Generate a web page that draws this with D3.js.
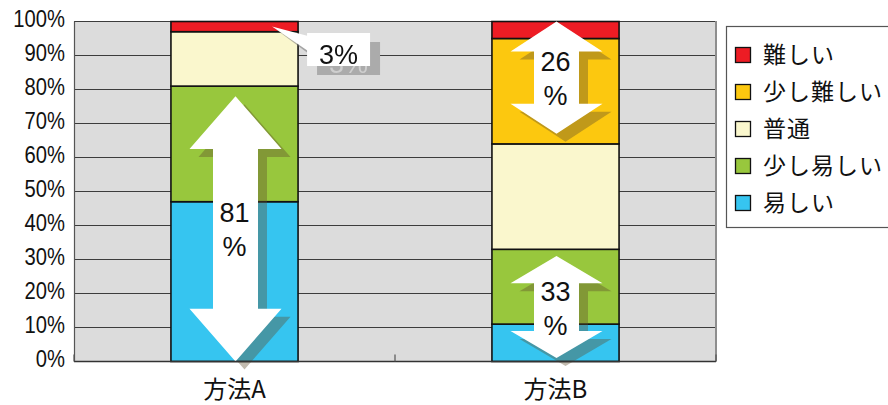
<!DOCTYPE html>
<html>
<head>
<meta charset="utf-8">
<script src="https://cdn.jsdelivr.net/npm/d3@7"></script>
<style>
  html, body { margin: 0; padding: 0; background: #fff; }
  svg { display: block; }
</style>
</head>
<body>
<svg id="chart" width="888" height="405"></svg>
<script>
// ---- data ----
const methods = ['方法A', '方法B'];
const levels = ['易しい', '少し易しい', '普通', '少し難しい', '難しい']; // stacked bottom → top
const easy = [47, 11];
const slightlyEasy = [34, 22];
const normal = [16, 31];
const slightlyHard = [0, 31];
const hard = [3, 5];
const yTicks = [0, 10, 20, 30, 40, 50, 60, 70, 80, 90, 100];

// double-headed block arrows: bar, span (%), head length (%), stated value
const arrowMethod = ['方法A', '方法B', '方法B'];
const arrowLow = [0, 1, 67];
const arrowHigh = [78, 31, 100];
const arrowHeadPct = [15.5, 8, 8.8];
const arrowValue = [81, 33, 26];

const colors = {
  '難しい': '#ed1c24',
  '少し難しい': '#fcc80f',
  '普通': '#faf7cd',
  '少し易しい': '#98c73d',
  '易しい': '#36c5f0'
};

const seriesByLevel = {
  '易しい': easy,
  '少し易しい': slightlyEasy,
  '普通': normal,
  '少し難しい': slightlyHard,
  '難しい': hard
};
const rows = methods.map((m, i) => {
  const r = { method: m };
  levels.forEach(l => { r[l] = seriesByLevel[l][i]; });
  return r;
});

// ---- layout ----
const plot = { left: 74, right: 716, top: 21.5, bottom: 361.5 };
const latin = "'Liberation Sans', Arial, sans-serif";
const cjk = "'Noto Sans CJK JP', 'Noto Sans', sans-serif";

const svg = d3.select('#chart');

// drop shadow for the callout box: an offset grey copy in which dark text turns light
const defs = svg.append('defs');
const calloutShadow = defs.append('filter')
  .attr('id', 'callout-shadow')
  .attr('filterUnits', 'userSpaceOnUse')
  .attr('x', 250).attr('y', 0).attr('width', 200).attr('height', 120)
  .attr('color-interpolation-filters', 'sRGB');
calloutShadow.append('feColorMatrix')
  .attr('in', 'SourceGraphic')
  .attr('type', 'matrix')
  .attr('values', '-0.15 0 0 0 0.82  0 -0.15 0 0 0.82  0 0 -0.15 0 0.82  0 0 0 1 0')
  .attr('result', 'grey');
calloutShadow.append('feOffset')
  .attr('in', 'grey').attr('dx', 10).attr('dy', 9)
  .attr('result', 'shifted');
const merge = calloutShadow.append('feMerge');
merge.append('feMergeNode').attr('in', 'shifted');
merge.append('feMergeNode').attr('in', 'SourceGraphic');

const x = d3.scaleBand()
  .domain(methods)
  .range([plot.left, plot.right])
  .paddingInner(0.604)
  .paddingOuter(0.302);

const y = d3.scaleLinear()
  .domain([0, 100])
  .range([plot.bottom, plot.top]);

// plot background
svg.append('rect')
  .attr('x', plot.left).attr('y', plot.top)
  .attr('width', plot.right - plot.left)
  .attr('height', plot.bottom - plot.top)
  .attr('fill', '#dcdcdc');

// horizontal gridlines
svg.append('g')
  .selectAll('line')
  .data(yTicks)
  .join('line')
  .attr('x1', plot.left).attr('x2', plot.right)
  .attr('y1', d => y(d)).attr('y2', d => y(d))
  .attr('stroke', '#3c3c3c')
  .attr('stroke-width', 1.1);

// right frame edge
svg.append('line')
  .attr('x1', plot.right).attr('x2', plot.right)
  .attr('y1', plot.top - 0.5).attr('y2', plot.bottom)
  .attr('stroke', '#8e8e8e').attr('stroke-width', 2);

// stacked bars
const stacked = d3.stack().keys(levels)(rows);
svg.append('g')
  .selectAll('g')
  .data(stacked)
  .join('g')
  .attr('fill', s => colors[s.key])
  .selectAll('rect')
  .data(s => s.filter(d => d[1] - d[0] > 0))
  .join('rect')
  .attr('x', d => x(d.data.method))
  .attr('y', d => y(d[1]))
  .attr('width', x.bandwidth())
  .attr('height', d => y(d[0]) - y(d[1]))
  .attr('stroke', '#111')
  .attr('stroke-width', 1.6);

// ---- block arrows ----
function arrowPoints(cx, yTop, yBot, headH, shaftW, headW) {
  const hs = shaftW / 2, hh = headW / 2;
  return [
    [cx, yTop], [cx + hh, yTop + headH], [cx + hs, yTop + headH],
    [cx + hs, yBot - headH], [cx + hh, yBot - headH], [cx, yBot],
    [cx - hh, yBot - headH], [cx - hs, yBot - headH], [cx - hs, yTop + headH],
    [cx - hh, yTop + headH]
  ].map(p => p.join(',')).join(' ');
}

const arrows = arrowMethod.map((m, i) => ({
  cx: x(m) + x.bandwidth() / 2 + 1,
  yTop: y(arrowHigh[i]),
  yBot: y(arrowLow[i]),
  headH: y(0) - y(arrowHeadPct[i]),
  value: arrowValue[i]
}));

const arrowG = svg.append('g');
// drop shadows first
arrowG.selectAll('polygon.shadow')
  .data(arrows)
  .join('polygon')
  .attr('class', 'shadow')
  .attr('points', a => arrowPoints(a.cx + 9, a.yTop + 8, a.yBot + 8, a.headH, 45, 92))
  .attr('fill', 'rgba(95, 75, 45, 0.38)');
arrowG.selectAll('polygon.body')
  .data(arrows)
  .join('polygon')
  .attr('class', 'body')
  .attr('points', a => arrowPoints(a.cx, a.yTop, a.yBot, a.headH, 45, 92))
  .attr('fill', '#fff');

const arrowText = arrowG.selectAll('text')
  .data(arrows)
  .join('text')
  .attr('font-family', latin)
  .attr('font-size', 27)
  .attr('fill', '#111')
  .attr('text-anchor', 'middle');
arrowText.append('tspan')
  .attr('x', a => a.cx - 1)
  .attr('y', a => (a.yTop + a.yBot) / 2 - 6.5)
  .text(a => a.value);
arrowText.append('tspan')
  .attr('x', a => a.cx - 1)
  .attr('y', a => (a.yTop + a.yBot) / 2 + 27.5)
  .text('%');

// ---- callout for 方法A 難しい ----
const aRight = x('方法A') + x.bandwidth();
const tip = [aRight - 26, y(100 - hard[0] / 2)];
const box = { x: aRight + 9, y: y(100) + 11.5, w: 63, h: 33 };
const callout = svg.append('g');
callout.append('polygon')
  .attr('points', [[tip[0] + 4, tip[1] + 3], [box.x + 6, box.y + 10], [box.x + 6, box.y + 24]].map(p => p.join(',')).join(' '))
  .attr('fill', 'rgba(120,120,120,0.55)');
callout.append('polygon')
  .attr('points', [tip, [box.x + 1, box.y + 3], [box.x + 1, box.y + 18]].map(p => p.join(',')).join(' '))
  .attr('fill', '#fff');
const calloutBox = callout.append('g')
  .attr('filter', 'url(#callout-shadow)');
calloutBox.append('rect')
  .attr('x', box.x).attr('y', box.y)
  .attr('width', box.w).attr('height', box.h)
  .attr('fill', '#fff');
calloutBox.append('text')
  .attr('x', box.x + box.w / 2).attr('y', box.y + 31)
  .attr('text-anchor', 'middle')
  .attr('font-family', latin).attr('font-size', 27)
  .attr('fill', '#111')
  .text(`${hard[0]}%`);

// ---- axes ----
const yAxis = svg.append('g')
  .attr('transform', `translate(${plot.left},0)`)
  .call(d3.axisLeft(y).tickValues(yTicks).tickSize(0).tickFormat(d => d + '%'));
yAxis.select('.domain').remove();
yAxis.selectAll('text')
  .attr('x', 0).attr('dy', null).attr('y', 5)
  .attr('transform', 'translate(-9,0) scale(0.86,1)')
  .attr('font-family', latin)
  .attr('font-size', 23.5)
  .attr('fill', '#111');

// axis lines
svg.append('line')
  .attr('x1', plot.left + 0.5).attr('x2', plot.left + 0.5)
  .attr('y1', plot.top).attr('y2', plot.bottom)
  .attr('stroke', '#555').attr('stroke-width', 1.2);
svg.append('line')
  .attr('x1', plot.left).attr('x2', plot.right)
  .attr('y1', plot.bottom).attr('y2', plot.bottom)
  .attr('stroke', '#333').attr('stroke-width', 1.6);

// category boundary ticks (pointing inward)
const boundaries = d3.range(methods.length + 1).map(i => plot.left + i * x.step());
svg.append('g')
  .selectAll('line')
  .data(boundaries)
  .join('line')
  .attr('x1', d => d).attr('x2', d => d)
  .attr('y1', plot.bottom - 7).attr('y2', plot.bottom)
  .attr('stroke', '#555').attr('stroke-width', 1.2);

const xAxis = svg.append('g')
  .attr('transform', `translate(0,${plot.bottom})`)
  .call(d3.axisBottom(x).tickSize(0));
xAxis.select('.domain').remove();
xAxis.selectAll('text')
  .attr('dy', null).attr('y', 36.5)
  .attr('font-family', cjk)
  .attr('font-size', 24)
  .attr('fill', '#111');

// ---- legend ----
const legend = svg.append('g');
legend.append('rect')
  .attr('x', 726.5).attr('y', 26.5)
  .attr('width', 200).attr('height', 201)
  .attr('fill', '#fff')
  .attr('stroke', '#555').attr('stroke-width', 1.2);
const legendItems = legend.selectAll('g.item')
  .data(levels.slice().reverse())
  .join('g')
  .attr('class', 'item')
  .attr('transform', (d, i) => `translate(735,${55 + i * 37})`);
legendItems.append('rect')
  .attr('x', 0.5).attr('y', -7.5)
  .attr('width', 15).attr('height', 15)
  .attr('fill', d => colors[d])
  .attr('stroke', '#111').attr('stroke-width', 1.3);
legendItems.append('text')
  .attr('x', 28).attr('y', 0)
  .attr('dy', '0.36em')
  .attr('font-family', cjk)
  .attr('font-size', 23)
  .attr('letter-spacing', 1)
  .attr('fill', '#111')
  .text(d => d);
</script>
</body>
</html>
